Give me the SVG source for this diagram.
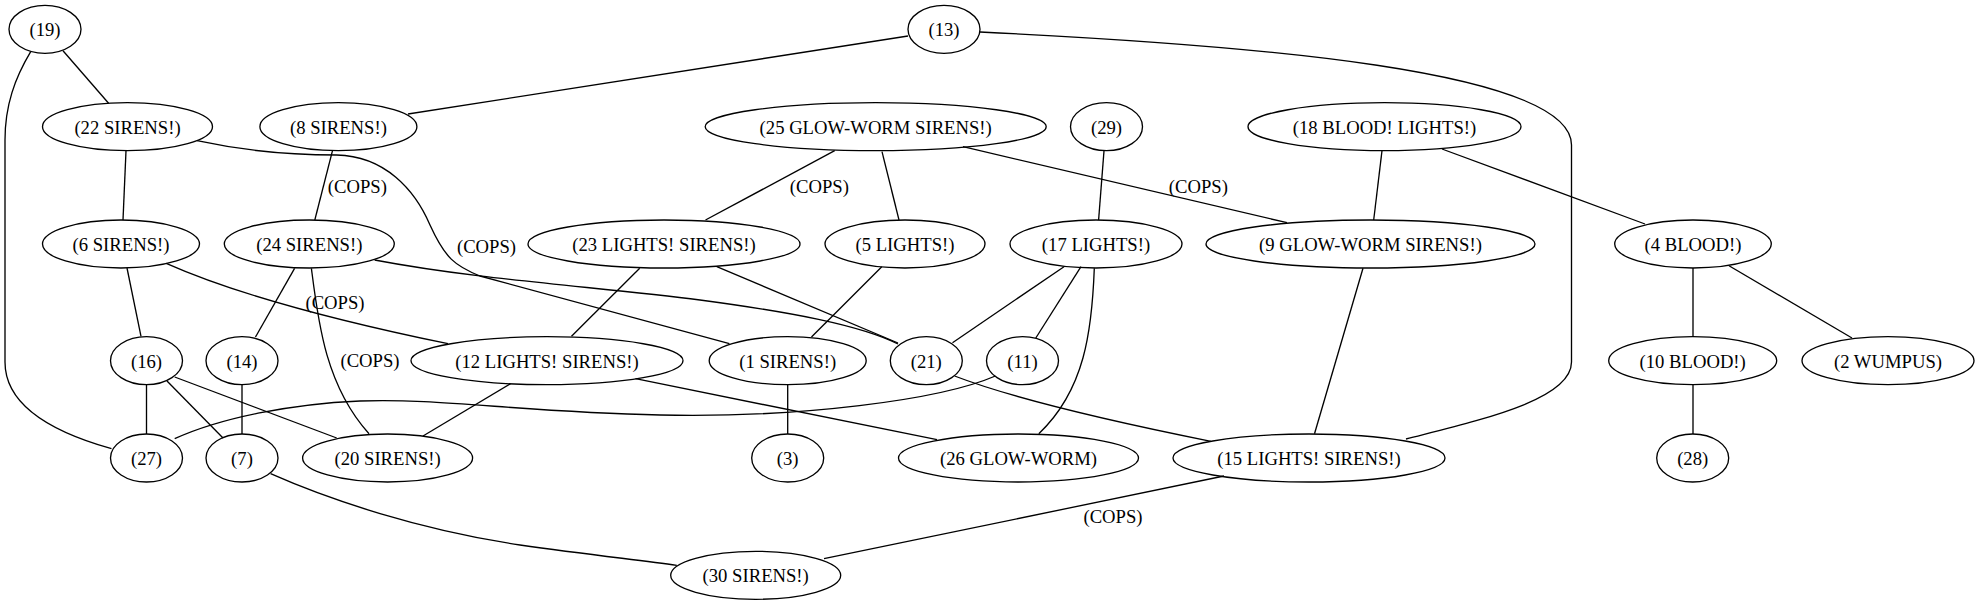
<svg xmlns="http://www.w3.org/2000/svg" width="1979" height="604" viewBox="0 0 1979 604">
<style>
.n ellipse{fill:none;stroke:#000;stroke-width:1.33}
text{font-family:"Liberation Serif","Times New Roman",serif;font-size:18.67px;fill:#000;text-anchor:middle}
.e path{fill:none;stroke:#000;stroke-width:1.33}
</style>
<rect width="1979" height="604" fill="#fff"/>
<g id="connectors" class="e">
<g id="e19-22"><path d="M63,50.7L108.6,103.3"/></g>
<g id="e19-27"><path d="M30.7,51.7C15,78 5,105 5,140L5,362C5,402 45,430 111.5,448.7"/></g>
<g id="e13-8"><path d="M908,36L408,114"/></g>
<g id="e13-15"><path d="M980,32C1250,45 1571.5,70 1571.5,145L1571.5,362C1571.5,400 1480,420 1406,439"/></g>
<g id="e22-6"><path d="M126,150.7L123,220"/></g>
<g id="e22-1"><path d="M197,140.7C240,150 290,155 336.7,155C385,156 415,190 430,225C445,258 455,266 480,276L729.4,343.7"/><text x="486.5" y="252.5">(COPS)</text></g>
<g id="e8-24"><path d="M332.5,150.7L314.8,220"/><text x="357.3" y="192.5">(COPS)</text></g>
<g id="e6-16"><path d="M127,268L141,336.3"/></g>
<g id="e6-12"><path d="M166.2,263.3Q260,305 448,343.7"/><text x="335" y="308.8">(COPS)</text></g>
<g id="e24-14"><path d="M294.6,268.3L255.5,337"/></g>
<g id="e24-20"><path d="M311.4,268.3C318,320 325,385 369,433.7"/><text x="370" y="367.2">(COPS)</text></g>
<g id="e24-21"><path d="M374.6,260C480,280 600,287 700,300C790,312 860,325 898,344"/></g>
<g id="e23-12"><path d="M639.7,268.3L571.5,336.3"/></g>
<g id="e23-21"><path d="M716.8,266.7L898,343"/></g>
<g id="e25-23"><path d="M834.7,150.7L705.5,220"/><text x="819.3" y="192.5">(COPS)</text></g>
<g id="e25-5"><path d="M882,151.7L899,220"/></g>
<g id="e25-9"><path d="M963,146.7L1287,222.7"/><text x="1198.3" y="192.5">(COPS)</text></g>
<g id="e29-17"><path d="M1104,150.7L1098.6,220"/></g>
<g id="e18-9"><path d="M1382,150.7L1373.7,220"/></g>
<g id="e18-4"><path d="M1442,149L1645,224"/></g>
<g id="e5-1"><path d="M881.8,266.7L811.5,337"/></g>
<g id="e17-21"><path d="M1064,266.7L952.5,342.7"/></g>
<g id="e17-11"><path d="M1081,266.7L1035.8,338"/></g>
<g id="e17-26"><path d="M1094.3,268.3C1092,330 1085,390 1038.8,433.7"/></g>
<g id="e9-15"><path d="M1363,268.3L1314.5,433.7"/></g>
<g id="e4-10"><path d="M1693,268L1693,336.7"/></g>
<g id="e4-2"><path d="M1729,265.7L1852,338"/></g>
<g id="e16-27"><path d="M146.5,384.7L146.5,434"/></g>
<g id="e16-7"><path d="M167,381L223,438"/></g>
<g id="e16-20"><path d="M174.7,377L336.7,438"/></g>
<g id="e14-7"><path d="M242,384.7L242,434"/></g>
<g id="e12-20"><path d="M510.5,383.7L423,436"/></g>
<g id="e12-26"><path d="M635.5,378.7L937,439.7"/></g>
<g id="e1-3"><path d="M787.7,384.7L787.7,434"/></g>
<g id="e11-27"><path d="M995.4,376C940,400 800,418 660,415C520,412 440,398 360,401C290,404 220,418 174.7,438.7"/></g>
<g id="e21-15"><path d="M954.6,376Q1030,405 1211,441.3"/></g>
<g id="e7-30"><path d="M270.6,473.7C330,500 420,530 520,545C590,555 640,560 676.8,565.3"/></g>
<g id="e15-30"><path d="M1224,476L824,558.7"/><text x="1113" y="523.2">(COPS)</text></g>
<g id="e10-28"><path d="M1693,384.7L1693,434"/></g>
</g>
<g id="n19" class="n"><ellipse cx="45" cy="29.3" rx="36" ry="24"/><text x="45" y="36.3">(19)</text></g>
<g id="n13" class="n"><ellipse cx="944" cy="29.3" rx="36" ry="24"/><text x="944" y="36.3">(13)</text></g>
<g id="n22" class="n"><ellipse cx="127.5" cy="126.7" rx="85" ry="24"/><text x="127.5" y="133.7">(22 SIRENS!)</text></g>
<g id="n8" class="n"><ellipse cx="338.4" cy="126.7" rx="78.5" ry="24"/><text x="338.4" y="133.7">(8 SIRENS!)</text></g>
<g id="n25" class="n"><ellipse cx="875.7" cy="126.7" rx="170.5" ry="24"/><text x="875.7" y="133.7">(25 GLOW-WORM SIRENS!)</text></g>
<g id="n29" class="n"><ellipse cx="1106.5" cy="126.7" rx="36" ry="24"/><text x="1106.5" y="133.7">(29)</text></g>
<g id="n18" class="n"><ellipse cx="1384.5" cy="126.7" rx="136.5" ry="24"/><text x="1384.5" y="133.7">(18 BLOOD! LIGHTS!)</text></g>
<g id="n6" class="n"><ellipse cx="121" cy="244" rx="78.5" ry="24"/><text x="121" y="251">(6 SIRENS!)</text></g>
<g id="n24" class="n"><ellipse cx="309.3" cy="244" rx="85" ry="24"/><text x="309.3" y="251">(24 SIRENS!)</text></g>
<g id="n23" class="n"><ellipse cx="664" cy="244" rx="136" ry="24"/><text x="664" y="251">(23 LIGHTS! SIRENS!)</text></g>
<g id="n5" class="n"><ellipse cx="905" cy="244" rx="80" ry="24"/><text x="905" y="251">(5 LIGHTS!)</text></g>
<g id="n17" class="n"><ellipse cx="1096" cy="244" rx="86" ry="24"/><text x="1096" y="251">(17 LIGHTS!)</text></g>
<g id="n9" class="n"><ellipse cx="1370.5" cy="244" rx="164.5" ry="24"/><text x="1370.5" y="251">(9 GLOW-WORM SIRENS!)</text></g>
<g id="n4" class="n"><ellipse cx="1693" cy="244" rx="78.3" ry="24"/><text x="1693" y="251">(4 BLOOD!)</text></g>
<g id="n16" class="n"><ellipse cx="146.5" cy="360.7" rx="36" ry="24"/><text x="146.5" y="367.7">(16)</text></g>
<g id="n14" class="n"><ellipse cx="242" cy="360.7" rx="36" ry="24"/><text x="242" y="367.7">(14)</text></g>
<g id="n12" class="n"><ellipse cx="547" cy="360.7" rx="136" ry="24"/><text x="547" y="367.7">(12 LIGHTS! SIRENS!)</text></g>
<g id="n1" class="n"><ellipse cx="787.7" cy="360.7" rx="78.5" ry="24"/><text x="787.7" y="367.7">(1 SIRENS!)</text></g>
<g id="n21" class="n"><ellipse cx="926.3" cy="360.7" rx="36" ry="24"/><text x="926.3" y="367.7">(21)</text></g>
<g id="n11" class="n"><ellipse cx="1022.5" cy="360.7" rx="36" ry="24"/><text x="1022.5" y="367.7">(11)</text></g>
<g id="n10" class="n"><ellipse cx="1692.7" cy="360.7" rx="84" ry="24"/><text x="1692.7" y="367.7">(10 BLOOD!)</text></g>
<g id="n2" class="n"><ellipse cx="1888" cy="360.7" rx="86" ry="24"/><text x="1888" y="367.7">(2 WUMPUS)</text></g>
<g id="n27" class="n"><ellipse cx="146.5" cy="458" rx="36" ry="24"/><text x="146.5" y="465">(27)</text></g>
<g id="n7" class="n"><ellipse cx="242" cy="458" rx="36" ry="24"/><text x="242" y="465">(7)</text></g>
<g id="n20" class="n"><ellipse cx="387.6" cy="458" rx="85" ry="24"/><text x="387.6" y="465">(20 SIRENS!)</text></g>
<g id="n3" class="n"><ellipse cx="787.7" cy="458" rx="36" ry="24"/><text x="787.7" y="465">(3)</text></g>
<g id="n26" class="n"><ellipse cx="1018.5" cy="458" rx="120" ry="24"/><text x="1018.5" y="465">(26 GLOW-WORM)</text></g>
<g id="n15" class="n"><ellipse cx="1309" cy="458" rx="136" ry="24"/><text x="1309" y="465">(15 LIGHTS! SIRENS!)</text></g>
<g id="n28" class="n"><ellipse cx="1692.7" cy="458" rx="36" ry="24"/><text x="1692.7" y="465">(28)</text></g>
<g id="n30" class="n"><ellipse cx="755.7" cy="575.3" rx="85" ry="24"/><text x="755.7" y="582.3">(30 SIRENS!)</text></g>
</svg>
